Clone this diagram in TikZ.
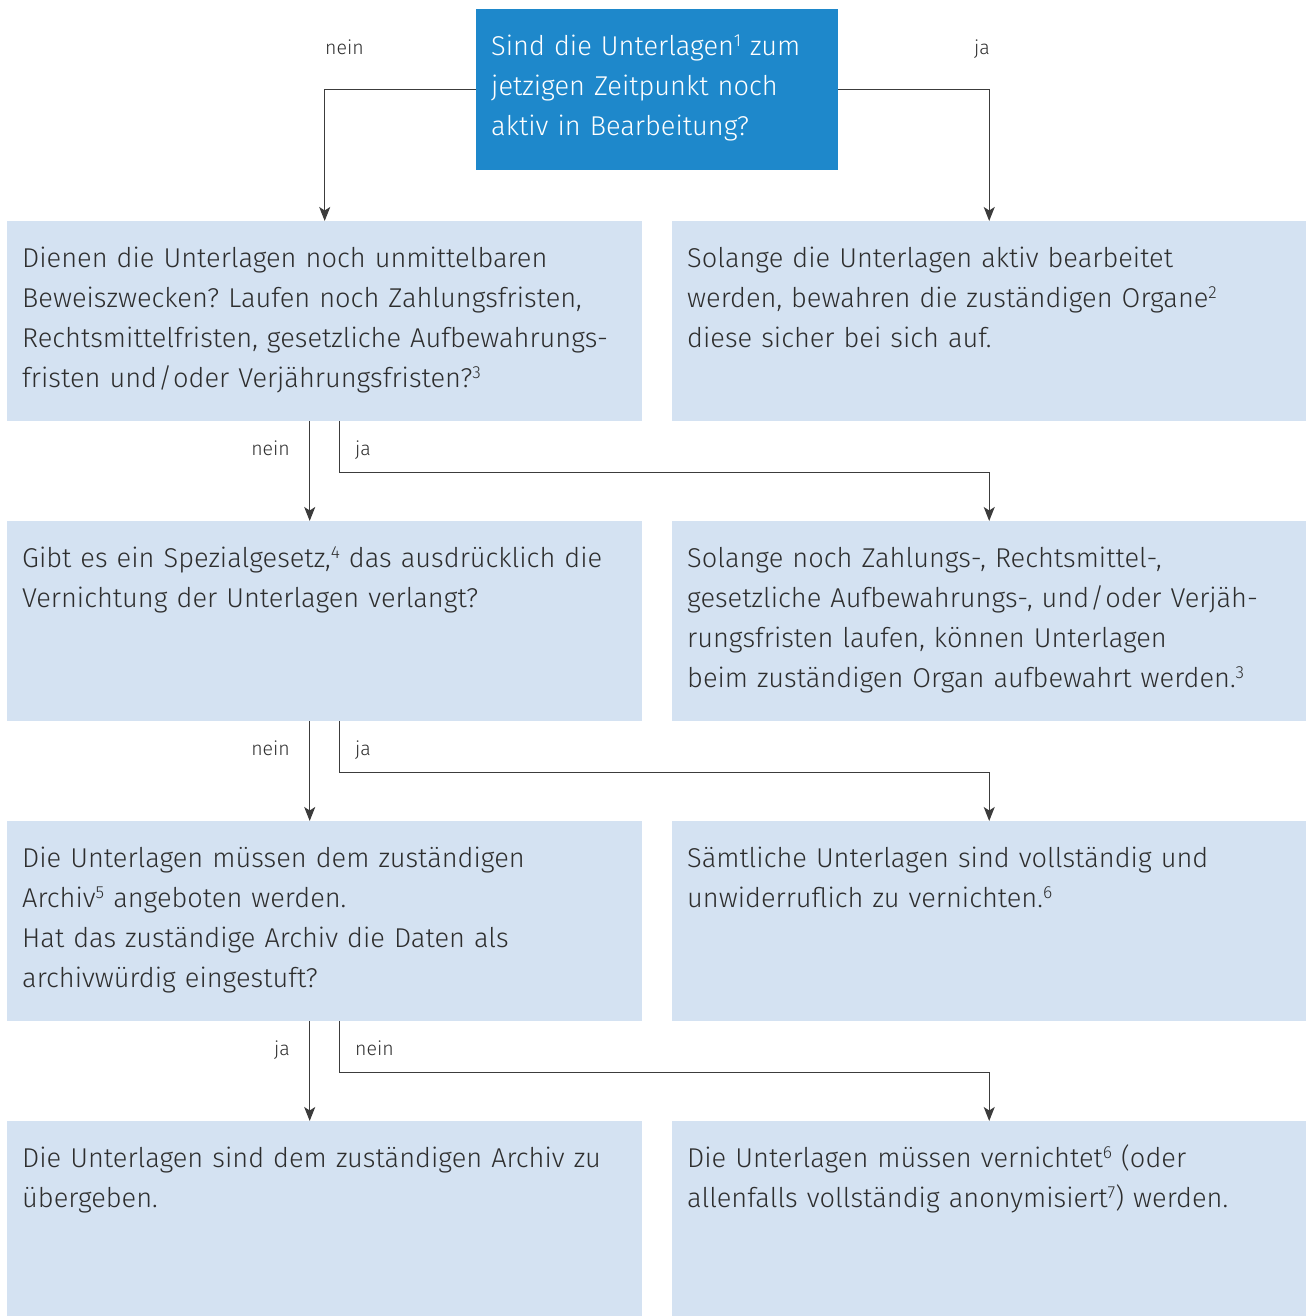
\documentclass[tikz,border=0pt]{standalone}
\usepackage{fontspec}
\setmainfont{Fira Sans}[UprightFont=* Light, BoldFont=* Regular]
\usepackage{tikz}
\usetikzlibrary{arrows.meta}
\frenchspacing

\definecolor{topblue}{HTML}{1E88CB}
\definecolor{boxblue}{HTML}{D4E2F2}
\definecolor{inkgray}{HTML}{2E2E2E}
\definecolor{linegray}{HTML}{3C3C3C}

% small raised footnote numbers
\newcommand{\fnmark}[1]{\raisebox{0.6ex}{\fontsize{17.5}{17.5}\selectfont #1}}

\tikzset{
  box/.style={fill=boxblue, anchor=north west, minimum width=635pt, minimum height=200pt, inner sep=0pt},
  txt/.style={anchor=north west, text width=620pt, align=left, inner xsep=15pt, inner ysep=18pt,
    text=inkgray, font=\fontsize{27.2}{40}\selectfont, execute at begin node=\strut},
  lbl/.style={inner sep=0pt, text=inkgray, font=\fontsize{19.5}{22}\selectfont},
  arr/.style={draw=linegray, line width=1.4pt, -{Stealth[length=14pt, width=11pt, inset=3.5pt]}}
}

\begin{document}
\begin{tikzpicture}[x=1pt, y=-1pt]
    \useasboundingbox (0,0) rectangle (1306,1316);
    % start question
    \node[fill=topblue, anchor=north west, minimum width=362pt, minimum height=161pt, inner sep=0pt] (top) at (476,9) {};
    \node[txt, text=white, text width=340pt] at (top.north west) {Sind die Unterlagen\fnmark{1} zum\\jetzigen Zeitpunkt noch\\aktiv in Bearbeitung?};
    % left column: questions
    \node[box] (q1) at (7,221) {};
    \node[txt] at (q1.north west) {Dienen die Unterlagen noch unmittelbaren\\Beweiszwecken? Laufen noch Zahlungsfristen,\\Rechtsmittelfristen, gesetzliche Aufbewahrungs-\\fristen und\kern1pt/\kern1pt oder Verjährungsfristen?\fnmark{3}};
    \node[box] (q2) at (7,521) {};
    \node[txt] at (q2.north west) {Gibt es ein Spezialgesetz,\fnmark{4} das ausdrücklich die\\Vernichtung der Unterlagen verlangt?};
    \node[box] (q3) at (7,821) {};
    \node[txt] at (q3.north west) {Die Unterlagen müssen dem zuständigen\\Archiv\fnmark{5} angeboten werden.\\Hat das zuständige Archiv die Daten als\\archivwürdig eingestuft?};
    \node[box, minimum height=195pt] (q4) at (7,1121) {};
    \node[txt] at (q4.north west) {Die Unterlagen sind dem zuständigen Archiv zu\\übergeben.};
    % right column: answers
    \node[box, minimum width=634pt] (a1) at (672,221) {};
    \node[txt] at (a1.north west) {Solange die Unterlagen aktiv bearbeitet\\werden, bewahren die zuständigen Organe\fnmark{2}\\diese sicher bei sich auf.};
    \node[box, minimum width=634pt] (a2) at (672,521) {};
    \node[txt] at (a2.north west) {Solange noch Zahlungs-, Rechtsmittel-,\\gesetzliche Aufbewahrungs-, und\kern1pt/\kern1pt oder Verjäh-\\rungsfristen laufen, können Unterlagen\\beim zuständigen Organ aufbewahrt werden.\fnmark{3}};
    \node[box, minimum width=634pt] (a3) at (672,821) {};
    \node[txt] at (a3.north west) {Sämtliche Unterlagen sind vollständig und\\unwiderruflich zu vernichten.\fnmark{6}};
    \node[box, minimum width=634pt, minimum height=195pt] (a4) at (672,1121) {};
    \node[txt] at (a4.north west) {Die Unterlagen müssen vernichtet\fnmark{6} (oder\\allenfalls vollständig anonymisiert\fnmark{7}) werden.};
    % connectors
    \draw[arr] (top.west) -| (q1.north);
    \draw[arr] (top.east) -| (a1.north);
    \node[lbl, anchor=base west] (n0) at (325,55) {nein};
    \node[lbl, anchor=base east] (j0) at (990,55) {ja};
    \draw[arr] ([xshift=-15pt]q1.south) -- ([xshift=-15pt]q2.north);
    \draw[arr] ([xshift=15pt]q1.south) -- ++(0,51) -| (a2.north);
    \node[lbl, anchor=base east] (n1) at (290,455) {nein};
    \node[lbl, anchor=base west] (j1) at (355,455) {ja};
    \draw[arr] ([xshift=-15pt]q2.south) -- ([xshift=-15pt]q3.north);
    \draw[arr] ([xshift=15pt]q2.south) -- ++(0,51) -| (a3.north);
    \node[lbl, anchor=base east] (n2) at (290,755) {nein};
    \node[lbl, anchor=base west] (j2) at (355,755) {ja};
    \draw[arr] ([xshift=-15pt]q3.south) -- ([xshift=-15pt]q4.north);
    \draw[arr] ([xshift=15pt]q3.south) -- ++(0,51) -| (a4.north);
    \node[lbl, anchor=base east] (j3) at (290,1055) {ja};
    \node[lbl, anchor=base west] (n3) at (355,1055) {nein};
\end{tikzpicture}
\end{document}
